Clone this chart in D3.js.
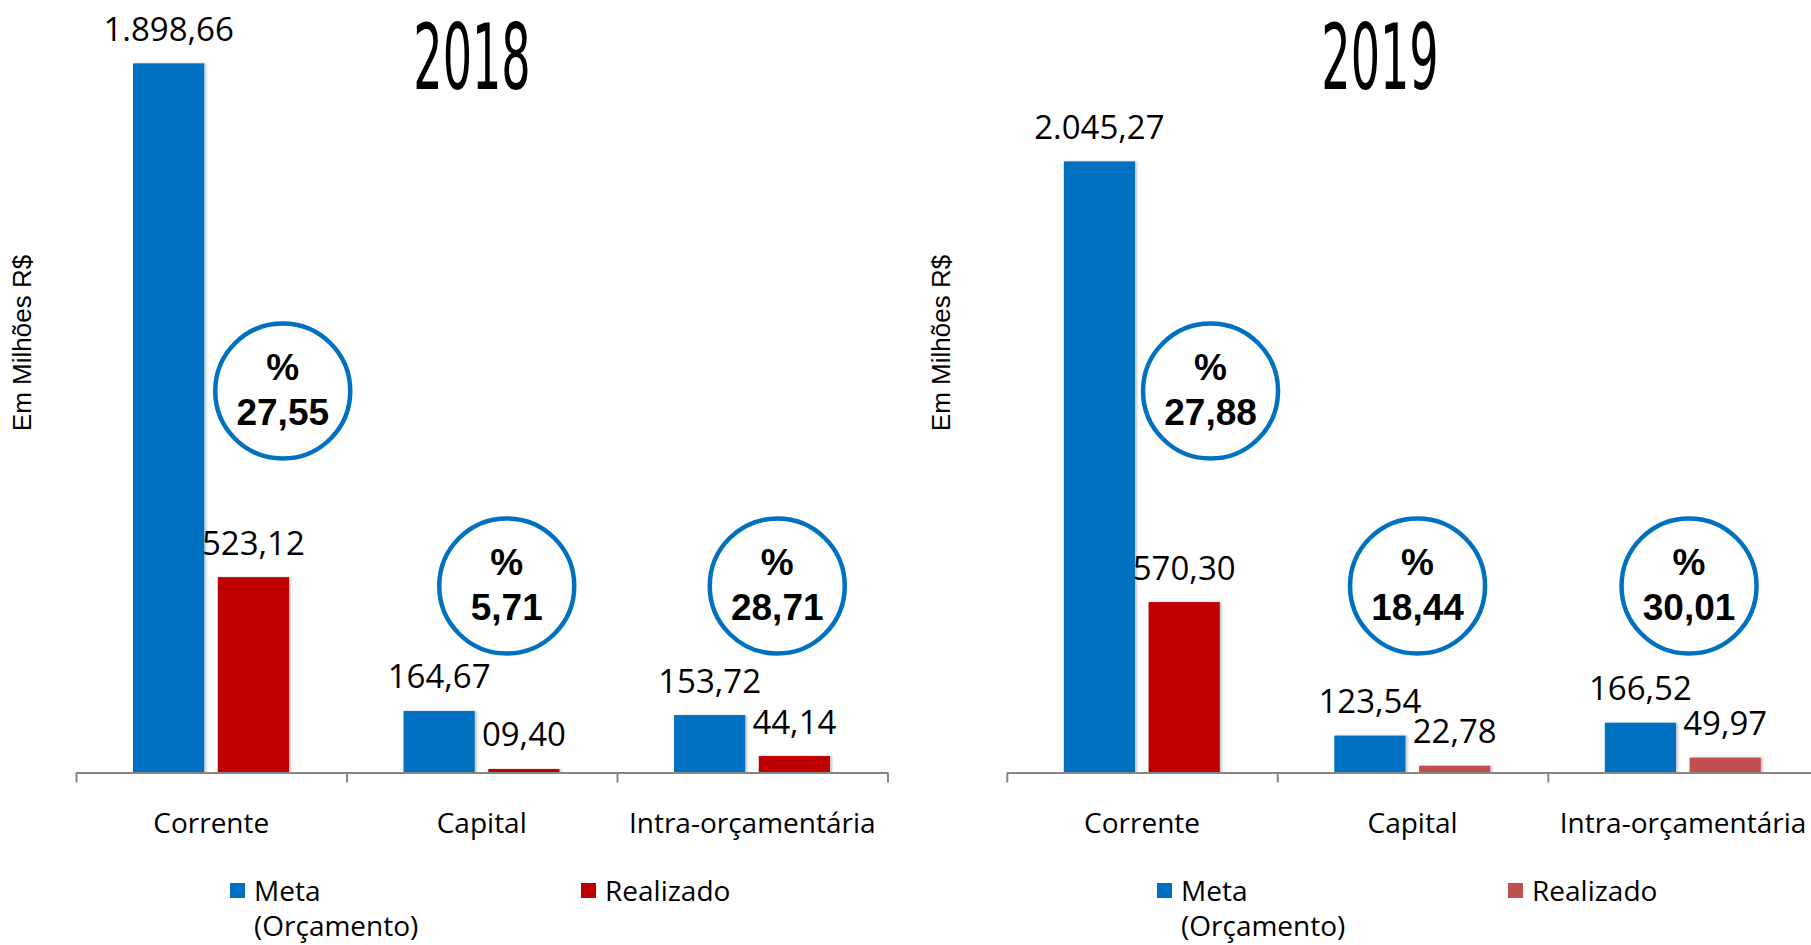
<!DOCTYPE html>
<html>
<head>
<meta charset="utf-8">
<script src="https://cdn.jsdelivr.net/npm/d3@7"></script>
<style>
  body { margin: 0; background: #fff; }
  text { fill: #000; }
</style>
</head>
<body>
<svg id="chart" width="1811" height="945"></svg>
<script>
// data (Em Milhões R$)
const categories = ["Corrente", "Capital", "Intra-orçamentária"];
const seriesNames = ["Meta (Orçamento)", "Realizado"];

const meta2018 = [1898.66, 164.67, 153.72];
const realizado2018 = [523.12, 9.40, 44.14];
const metaLabels2018 = ["1.898,66", "164,67", "153,72"];
const realizadoLabels2018 = ["523,12", "09,40", "44,14"];

const meta2019 = [2045.27, 123.54, 166.52];
const realizado2019 = [570.30, 22.78, 49.97];
const metaLabels2019 = ["2.045,27", "123,54", "166,52"];
const realizadoLabels2019 = ["570,30", "22,78", "49,97"];

const yMax2018 = 2000;
const yMax2019 = 2500;

const ptBR = d3.formatLocale({ decimal: ",", thousands: ".", grouping: [3], currency: ["R$", ""] });
const fmtPct = ptBR.format(",.2f");

const BLUE = "#0070C0";
const RED = "#C00000";
const RED_LIGHT = "#C0504D";

const svg = d3.select("#chart");

// soft shadow like the original bars
const defs = svg.append("defs");
const f = defs.append("filter").attr("id", "shadow").attr("x", "-10%").attr("y", "-10%").attr("width", "130%").attr("height", "120%");
f.append("feDropShadow").attr("dx", 2).attr("dy", 0).attr("stdDeviation", 1.2)
  .attr("flood-color", "#000").attr("flood-opacity", 0.22);

const panels = [
  {
    year: "2018", meta: meta2018, real: realizado2018,
    metaLabels: metaLabels2018, realLabels: realizadoLabels2018,
    yMax: yMax2018, x0: 76, step: 270.5,
    realColors: [RED, RED, RED], legendRealColor: RED,
    titleX: 472, yLabelX: 31, legendX: 230, legendRealX: 581,
    circles: [{ dx: 71.5, cy: 391 }, { dx: 25, cy: 586 }, { dx: 25, cy: 586 }]
  },
  {
    year: "2019", meta: meta2019, real: realizado2019,
    metaLabels: metaLabels2019, realLabels: realizadoLabels2019,
    yMax: yMax2019, x0: 1006.8, step: 270.5,
    realColors: [RED, RED_LIGHT, RED_LIGHT], legendRealColor: RED_LIGHT,
    titleX: 1380, yLabelX: 950, legendX: 1157, legendRealX: 1508,
    circles: [{ dx: 68.5, cy: 391 }, { dx: 5, cy: 586 }, { dx: 6, cy: 586 }]
  }
];

const baseY = 772.5;
const topY = 25.5;

panels.forEach(p => {
  const g = svg.append("g");

  const x = d3.scaleBand()
    .domain(categories)
    .range([p.x0, p.x0 + p.step * categories.length])
    .padding(0);

  const xSub = d3.scaleBand()
    .domain(seriesNames)
    .range([57, p.step - 57.5])
    .paddingInner(0.16);

  const y = d3.scaleLinear()
    .domain([0, p.yMax])
    .range([baseY, topY]);

  const rows = categories.map((c, i) => ({
    cat: c, i: i,
    values: [
      { s: seriesNames[0], v: p.meta[i], label: p.metaLabels[i], color: BLUE },
      { s: seriesNames[1], v: p.real[i], label: p.realLabels[i], color: p.realColors[i] }
    ]
  }));

  // bars
  const catG = g.selectAll("g.cat").data(rows).enter().append("g")
    .attr("class", "cat")
    .attr("transform", d => `translate(${x(d.cat)},0)`);

  catG.selectAll("rect").data(d => d.values).enter().append("rect")
    .attr("x", d => xSub(d.s))
    .attr("y", d => y(d.v))
    .attr("width", xSub.bandwidth())
    .attr("height", d => baseY - y(d.v))
    .attr("fill", d => d.color)
    .attr("filter", "url(#shadow)");

  // value labels
  catG.selectAll("text.val").data(d => d.values).enter().append("text")
    .attr("class", "val")
    .attr("x", d => xSub(d.s) + xSub.bandwidth() / 2)
    .attr("y", d => y(d.v) - 22.5)
    .attr("text-anchor", "middle")
    .style("font-family", "'Open Sans', sans-serif")
    .style("font-size", "33px")
    .text(d => d.label);

  // category axis (ticks between categories)
  const xb = d3.scaleLinear().domain([0, categories.length]).range(x.range());
  const axis = g.append("g")
    .attr("transform", `translate(0,${baseY})`)
    .call(d3.axisBottom(xb).ticks(categories.length).tickSize(10).tickSizeOuter(0).tickFormat(""));
  axis.select(".domain").attr("stroke", "#868686").attr("stroke-width", 2);
  axis.selectAll(".tick line").attr("stroke", "#868686").attr("stroke-width", 2);

  g.selectAll("text.cat").data(categories).enter().append("text")
    .attr("class", "cat")
    .attr("x", d => x(d) + x.bandwidth() / 2)
    .attr("y", 833)
    .attr("text-anchor", "middle")
    .style("font-family", "'Open Sans', sans-serif")
    .style("font-size", "28px")
    .text(d => d);

  // percent circles
  const circ = g.selectAll("g.pct").data(rows).enter().append("g")
    .attr("class", "pct")
    .attr("transform", d => `translate(${x(d.cat) + x.bandwidth() / 2 + p.circles[d.i].dx},${p.circles[d.i].cy})`);
  circ.append("circle")
    .attr("r", 67.5)
    .attr("fill", "#fff")
    .attr("stroke", BLUE)
    .attr("stroke-width", 4.5);
  circ.append("text")
    .attr("y", -11)
    .attr("text-anchor", "middle")
    .style("font-family", "'Liberation Sans', Arial, sans-serif")
    .style("font-weight", "bold")
    .style("font-size", "37px")
    .text("%");
  circ.append("text")
    .attr("y", 34)
    .attr("text-anchor", "middle")
    .style("font-family", "'Liberation Sans', Arial, sans-serif")
    .style("font-weight", "bold")
    .style("font-size", "37px")
    .text(d => fmtPct(d.values[1].v / d.values[0].v * 100));

  // title
  g.append("text")
    .attr("transform", `translate(${p.titleX},89) scale(0.513,1)`)
    .attr("text-anchor", "middle")
    .style("font-family", "'DejaVu Sans', sans-serif")
    .style("font-size", "90px")
    .text(p.year);

  // y axis title
  g.append("text")
    .attr("transform", `translate(${p.yLabelX},343) rotate(-90)`)
    .attr("text-anchor", "middle")
    .style("font-family", "'Liberation Sans', Arial, sans-serif")
    .style("font-size", "26px")
    .text("Em Milhões R$");

  // legend
  const leg = g.append("g");
  leg.append("rect").attr("x", p.legendX).attr("y", 883).attr("width", 15).attr("height", 15).attr("fill", BLUE);
  const t1 = leg.append("text")
    .style("font-family", "'Open Sans', sans-serif")
    .style("font-size", "28px");
  t1.append("tspan").attr("x", p.legendX + 24).attr("y", 901).text("Meta");
  t1.append("tspan").attr("x", p.legendX + 24).attr("y", 936).text("(Orçamento)");

  leg.append("rect").attr("x", p.legendRealX).attr("y", 883).attr("width", 15).attr("height", 15).attr("fill", p.legendRealColor);
  leg.append("text")
    .attr("x", p.legendRealX + 24).attr("y", 901)
    .style("font-family", "'Open Sans', sans-serif")
    .style("font-size", "28px")
    .text(seriesNames[1]);
});
</script>
</body>
</html>
